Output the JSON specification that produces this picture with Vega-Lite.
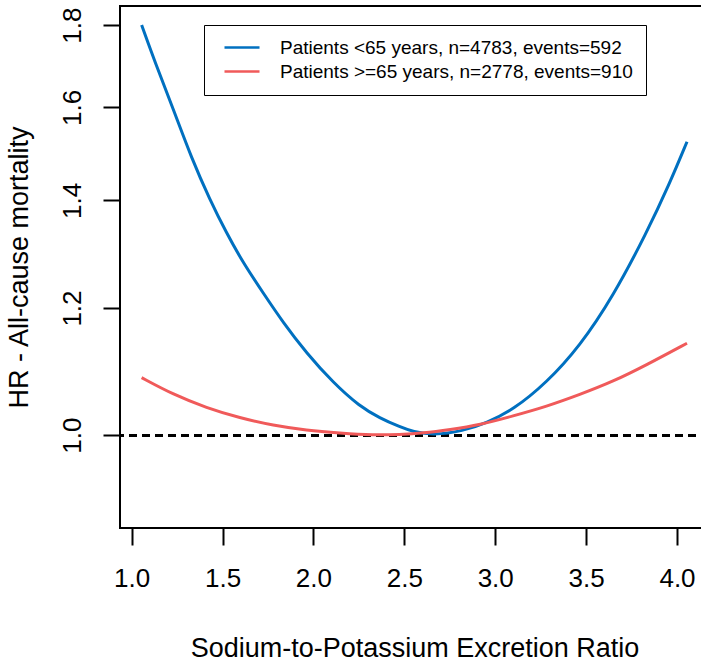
{
  "$schema": "https://vega.github.io/schema/vega-lite/v6.json",
  "width": 589,
  "height": 522,
  "autosize": {"type": "none"},
  "padding": {"left": 120, "top": 6, "right": 0, "bottom": 133},
  "background": "white",
  "config": {
    "font": "Liberation Sans",
    "view": {"stroke": "black", "strokeWidth": 2},
    "axis": {"labelColor": "black", "titleColor": "black", "titleFontWeight": "normal"}
  },
  "datasets": {
    "curves": [
      {"ratio": 1.055, "hr": 1.800, "group": "Patients <65 years, n=4783, events=592"},
      {"ratio": 1.129, "hr": 1.706, "group": "Patients <65 years, n=4783, events=592"},
      {"ratio": 1.229, "hr": 1.596, "group": "Patients <65 years, n=4783, events=592"},
      {"ratio": 1.330, "hr": 1.487, "group": "Patients <65 years, n=4783, events=592"},
      {"ratio": 1.431, "hr": 1.401, "group": "Patients <65 years, n=4783, events=592"},
      {"ratio": 1.522, "hr": 1.336, "group": "Patients <65 years, n=4783, events=592"},
      {"ratio": 1.614, "hr": 1.280, "group": "Patients <65 years, n=4783, events=592"},
      {"ratio": 1.724, "hr": 1.226, "group": "Patients <65 years, n=4783, events=592"},
      {"ratio": 1.834, "hr": 1.175, "group": "Patients <65 years, n=4783, events=592"},
      {"ratio": 1.962, "hr": 1.125, "group": "Patients <65 years, n=4783, events=592"},
      {"ratio": 2.109, "hr": 1.078, "group": "Patients <65 years, n=4783, events=592"},
      {"ratio": 2.255, "hr": 1.042, "group": "Patients <65 years, n=4783, events=592"},
      {"ratio": 2.365, "hr": 1.025, "group": "Patients <65 years, n=4783, events=592"},
      {"ratio": 2.475, "hr": 1.012, "group": "Patients <65 years, n=4783, events=592"},
      {"ratio": 2.548, "hr": 1.005, "group": "Patients <65 years, n=4783, events=592"},
      {"ratio": 2.658, "hr": 1.000, "group": "Patients <65 years, n=4783, events=592"},
      {"ratio": 2.823, "hr": 1.006, "group": "Patients <65 years, n=4783, events=592"},
      {"ratio": 2.952, "hr": 1.018, "group": "Patients <65 years, n=4783, events=592"},
      {"ratio": 3.098, "hr": 1.037, "group": "Patients <65 years, n=4783, events=592"},
      {"ratio": 3.282, "hr": 1.078, "group": "Patients <65 years, n=4783, events=592"},
      {"ratio": 3.465, "hr": 1.136, "group": "Patients <65 years, n=4783, events=592"},
      {"ratio": 3.648, "hr": 1.220, "group": "Patients <65 years, n=4783, events=592"},
      {"ratio": 3.832, "hr": 1.336, "group": "Patients <65 years, n=4783, events=592"},
      {"ratio": 3.960, "hr": 1.435, "group": "Patients <65 years, n=4783, events=592"},
      {"ratio": 4.055, "hr": 1.523, "group": "Patients <65 years, n=4783, events=592"},
      {"ratio": 1.055, "hr": 1.086, "group": "Patients >=65 years, n=2778, events=910"},
      {"ratio": 1.229, "hr": 1.060, "group": "Patients >=65 years, n=2778, events=910"},
      {"ratio": 1.412, "hr": 1.040, "group": "Patients >=65 years, n=2778, events=910"},
      {"ratio": 1.595, "hr": 1.025, "group": "Patients >=65 years, n=2778, events=910"},
      {"ratio": 1.779, "hr": 1.014, "group": "Patients >=65 years, n=2778, events=910"},
      {"ratio": 1.962, "hr": 1.007, "group": "Patients >=65 years, n=2778, events=910"},
      {"ratio": 2.145, "hr": 1.003, "group": "Patients >=65 years, n=2778, events=910"},
      {"ratio": 2.330, "hr": 1.000, "group": "Patients >=65 years, n=2778, events=910"},
      {"ratio": 2.475, "hr": 1.001, "group": "Patients >=65 years, n=2778, events=910"},
      {"ratio": 2.603, "hr": 1.003, "group": "Patients >=65 years, n=2778, events=910"},
      {"ratio": 2.750, "hr": 1.008, "group": "Patients >=65 years, n=2778, events=910"},
      {"ratio": 2.915, "hr": 1.015, "group": "Patients >=65 years, n=2778, events=910"},
      {"ratio": 3.098, "hr": 1.028, "group": "Patients >=65 years, n=2778, events=910"},
      {"ratio": 3.282, "hr": 1.042, "group": "Patients >=65 years, n=2778, events=910"},
      {"ratio": 3.465, "hr": 1.060, "group": "Patients >=65 years, n=2778, events=910"},
      {"ratio": 3.648, "hr": 1.080, "group": "Patients >=65 years, n=2778, events=910"},
      {"ratio": 3.832, "hr": 1.106, "group": "Patients >=65 years, n=2778, events=910"},
      {"ratio": 4.055, "hr": 1.141, "group": "Patients >=65 years, n=2778, events=910"}
    ]
  },
  "data": {"name": "curves"},
  "layer": [
    {
      "mark": {"type": "rule", "color": "black", "strokeWidth": 2, "strokeDash": [8, 5]},
      "encoding": {"y": {"datum": 1}}
    },
    {
      "mark": {"type": "line", "strokeWidth": 3, "interpolate": "basis"},
      "encoding": {
        "x": {
          "field": "ratio",
          "type": "quantitative",
          "scale": {"domain": [0.936, 4.176], "nice": false, "zero": false},
          "axis": {
            "values": [1, 1.5, 2, 2.5, 3, 3.5, 4],
            "format": ".1f",
            "domain": false,
            "grid": false,
            "ticks": true,
            "tickSize": 17,
            "tickWidth": 2,
            "tickColor": "black",
            "labelFontSize": 26,
            "labelPadding": 20,
            "labelFlush": false,
            "labelOverlap": false,
            "title": "Sodium-to-Potassium Excretion Ratio",
            "titleFontSize": 27,
            "titlePadding": 44
          }
        },
        "y": {
          "field": "hr",
          "type": "quantitative",
          "scale": {"type": "log", "domain": [0.8755, 1.85], "nice": false},
          "axis": {
            "values": [1, 1.2, 1.4, 1.6, 1.8],
            "format": ".1f",
            "domain": false,
            "grid": false,
            "tickSize": 17,
            "tickWidth": 2,
            "tickColor": "black",
            "labelFontSize": 26,
            "labelAngle": -90,
            "labelAlign": "center",
            "labelBaseline": "bottom",
            "labelPadding": 18,
            "labelFlush": false,
            "labelOverlap": false,
            "title": "HR - All-cause mortality",
            "titleFontSize": 27,
            "titlePadding": 26
          }
        },
        "color": {
          "field": "group",
          "type": "nominal",
          "scale": {
            "domain": ["Patients <65 years, n=4783, events=592", "Patients >=65 years, n=2778, events=910"],
            "range": ["#0070C0", "#F05A5A"]
          },
          "legend": {
            "title": null,
            "orient": "none",
            "legendX": 84,
            "legendY": 19,
            "strokeColor": "black",
            "padding": 13,
            "symbolType": "M-2.5,0H2.5",
            "symbolSize": 196,
            "symbolStrokeWidth": 2.5,
            "symbolOffset": 15.5,
            "labelFontSize": 19,
            "labelColor": "black",
            "labelOffset": 28.5,
            "labelLimit": 0,
            "rowPadding": 4
          }
        }
      }
    }
  ]
}
